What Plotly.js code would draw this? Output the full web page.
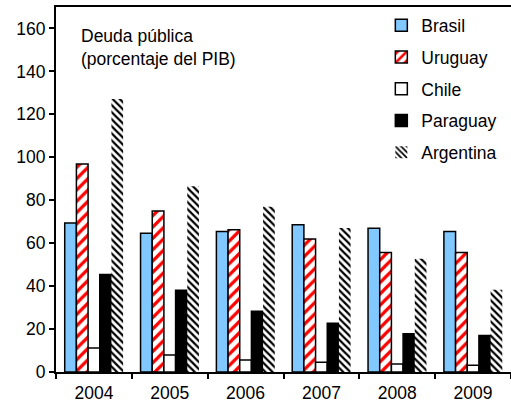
<!DOCTYPE html>
<html><head><meta charset="utf-8">
<script src="https://cdn.plot.ly/plotly-3.0.1.min.js"></script>
<style>html,body{margin:0;padding:0;background:#fff}#c{width:511px;height:404px}</style>
</head><body><div id="c"></div>
<script>
const years = ['2004','2005','2006','2007','2008','2009'];
const brasil    = [69.4, 64.6, 65.4, 68.6, 66.9, 65.4];
const uruguay   = [96.9, 75.0, 66.2, 62.0, 55.6, 55.6];
const chile     = [11.2, 7.9, 5.6, 4.5, 3.7, 3.1];
const paraguay  = [45.4, 38.1, 28.3, 22.7, 17.8, 17.0];
const argentina = [127.1, 86.5, 77.0, 67.1, 52.7, 38.3];
const yTicks = [0,20,40,60,80,100,120,140,160];

const font = 'Liberation Sans, Arial, sans-serif';
const fs = 17.5;
const ol = {color:'#000', width:1.5};
const traces = [
  {name:'Brasil', y:brasil, marker:{color:'#80C8FF', line:ol}},
  {name:'Uruguay', y:uruguay, marker:{color:'#fff', line:ol, pattern:{shape:'/', fgcolor:'#ff0000', bgcolor:'#ffffff', size:8, solidity:0.4}}},
  {name:'Chile', y:chile, marker:{color:'#fff', line:ol}},
  {name:'Paraguay', y:paraguay, marker:{color:'#000', line:ol}},
  {name:'Argentina', y:argentina, marker:{color:'#fff', line:{width:0}, pattern:{shape:'\\', fgcolor:'#000', bgcolor:'#fff', size:5, solidity:0.45}}}
].map((t,i)=>Object.assign({type:'bar', x:years, legendgroup:'g'+i, hoverinfo:'none'}, t));

const layout = {
  width:511, height:404,
  margin:{l:56, r:0, t:7, b:32},
  paper_bgcolor:'#fff', plot_bgcolor:'#fff',
  font:{family:font, size:fs, color:'#000'},
  barmode:'group', bargap:0.23, bargroupgap:0,
  showlegend:true,
  legend:{x:0.715, xanchor:'left', y:0.999, yanchor:'top', traceorder:'grouped', tracegroupgap:6,
    font:{family:font, size:fs, color:'#000'}, bgcolor:'rgba(0,0,0,0)'},
  xaxis:{type:'category', tickson:'boundaries', ticks:'outside', ticklen:5, tickwidth:2, tickcolor:'#000',
    showline:true, linecolor:'#000', linewidth:2, mirror:true, showgrid:false, zeroline:false,
    ticklabelstandoff:4, tickfont:{family:font, size:fs}},
  yaxis:{range:[0,170], tickvals:yTicks, ticktext:yTicks.map(String), ticks:'outside', ticklen:5, tickwidth:2, tickcolor:'#000',
    showline:true, linecolor:'#000', linewidth:2, showgrid:false, zeroline:false,
    tickfont:{family:font, size:fs}},
  annotations:[
    {xref:'paper', yref:'paper', x:0.05, y:0.889, xanchor:'left', yanchor:'middle', align:'left', showarrow:false,
     text:'Deuda pública<br>(porcentaje del PIB)', font:{family:font, size:fs, color:'#000'}}
  ]
};
Plotly.newPlot('c', traces, layout, {staticPlot:true});
</script></body></html>
